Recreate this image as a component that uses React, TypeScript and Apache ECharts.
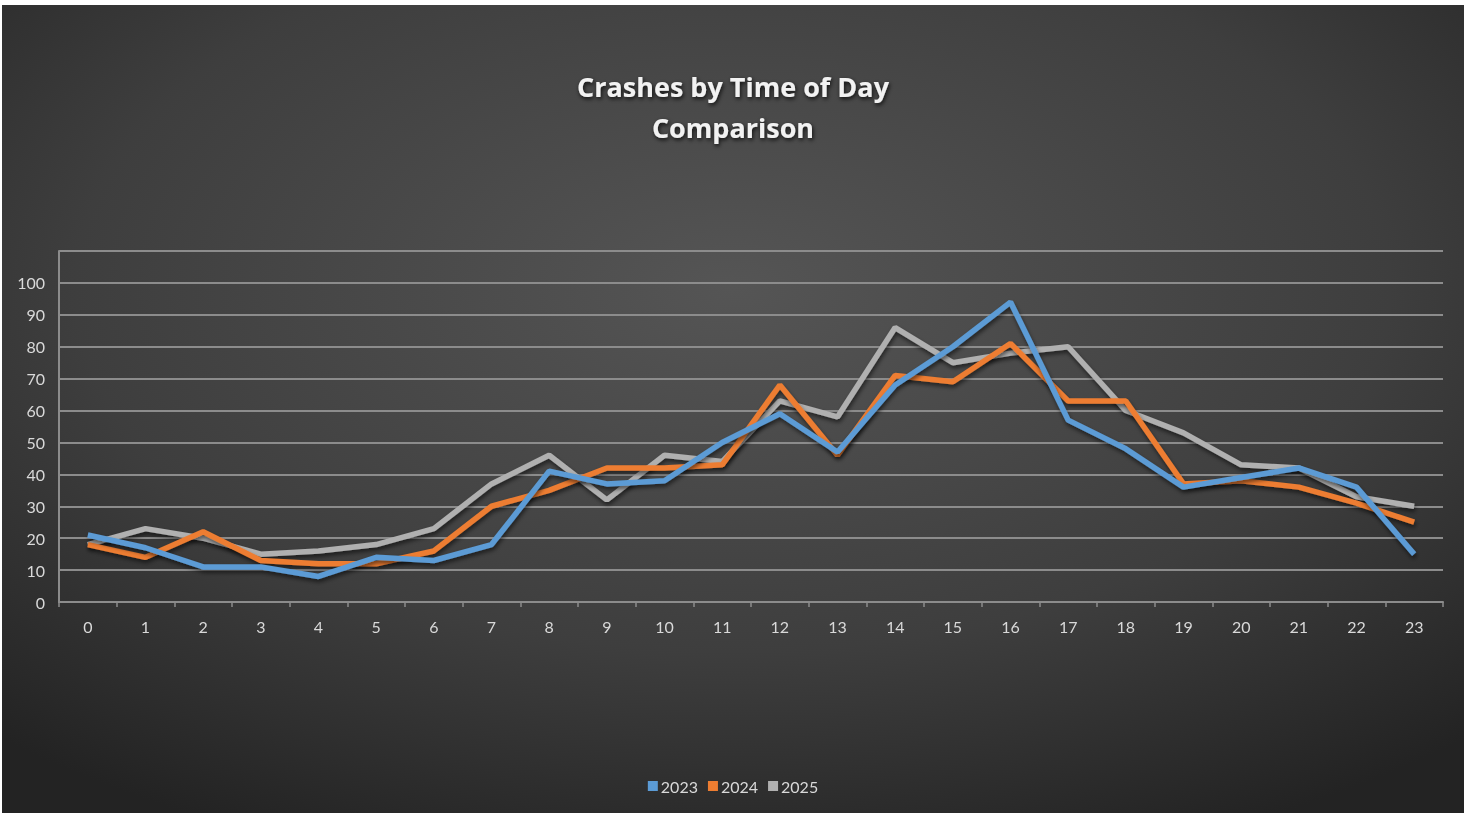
import React, { useEffect, useRef } from "react";
import * as echarts from "echarts";

const hours = ["0","1","2","3","4","5","6","7","8","9","10","11","12","13","14","15","16","17","18","19","20","21","22","23"];
const s2023 = [21, 17, 11, 11, 8, 14, 13, 18, 41, 37, 38, 50, 59, 47, 68, 80, 94, 57, 48, 36, 39, 42, 36, 15];
const s2024 = [18, 14, 22, 13, 12, 12, 16, 30, 35, 42, 42, 43, 68, 46, 71, 69, 81, 63, 63, 37, 38, 36, 31, 25];
const s2025 = [18, 23, 20, 15, 16, 18, 23, 37, 46, 32, 46, 44, 63, 58, 86, 75, 78, 80, 60, 53, 43, 42, 33, 30];
const seriesNames = ["2023", "2024", "2025"];
const titleText = "Crashes by Time of Day\nComparison";

export default function App() {
  const ref = useRef<HTMLDivElement>(null);
  useEffect(() => {
    if (!ref.current) return;
    const chart = echarts.init(ref.current, undefined, { renderer: "svg" });
    const colors = ["#5b9bd5", "#ed7d31", "#b0b0b0"];
    const data = [s2023, s2024, s2025];
    const lineStyleBase = (c: string) => ({
      color: c,
      width: 5.5,
      shadowColor: "rgba(0,0,0,0.55)",
      shadowBlur: 4,
      shadowOffsetX: 1,
      shadowOffsetY: 3,
    });
    chart.setOption({
      animation: false,
      backgroundColor: {
        type: "radial",
        x: 0.5,
        y: 0.35,
        r: 0.75,
        colorStops: [
          { offset: 0, color: "#555555" },
          { offset: 0.6, color: "#3e3e3e" },
          { offset: 1, color: "#232323" },
        ],
      },
      title: {
        text: titleText,
        left: "center",
        top: 56,
        textStyle: {
          color: "#f2f2f2",
          fontSize: 27,
          fontWeight: "bold",
          fontFamily: "Open Sans",
          lineHeight: 41,
          textShadowColor: "rgba(0,0,0,0.8)",
          textShadowBlur: 4,
          textShadowOffsetX: 1,
          textShadowOffsetY: 2,
        },
      },
      legend: {
        data: seriesNames,
        bottom: 14,
        left: "center",
        itemWidth: 10,
        itemHeight: 10,
        itemGap: 10,
        icon: "rect",
        textStyle: { color: "#d9d9d9", fontSize: 16, fontFamily: "Lato", padding: [0, 0, 0, -2] },
      },
      grid: { left: 57, right: 21, top: 246, bottom: 211, containLabel: false },
      xAxis: {
        type: "category",
        data: hours,
        boundaryGap: true,
        axisLine: { show: true, lineStyle: { color: "#8c8c8c", width: 2 } },
        axisTick: { show: true, alignWithLabel: false, length: 5, lineStyle: { color: "#8c8c8c", width: 1.5 } },
        axisLabel: { color: "#d9d9d9", fontSize: 16, fontFamily: "Lato", margin: 16 },
      },
      yAxis: {
        type: "value",
        min: 0,
        max: 110,
        interval: 10,
        axisLine: { show: true, lineStyle: { color: "#8c8c8c", width: 2 } },
        axisTick: { show: false },
        axisLabel: {
          color: "#d9d9d9",
          fontSize: 16,
          fontFamily: "Lato",
          margin: 14,
          formatter: (v: number) => (v === 110 ? "" : String(v)),
        },
        splitLine: { show: true, lineStyle: { color: "#8c8c8c", width: 2 } },
      },
      series: seriesNames.map((n, i) => ({
        name: n,
        type: "line",
        data: data[i],
        symbol: "none",
        z: 10 - i,
        color: colors[i],
        lineStyle: lineStyleBase(colors[i]),
      })),
    });
    return () => chart.dispose();
  }, []);
  return (
    <div
      ref={ref}
      style={{ position: "fixed", left: 2, top: 5, width: 1462, height: 808 }}
    />
  );
}
